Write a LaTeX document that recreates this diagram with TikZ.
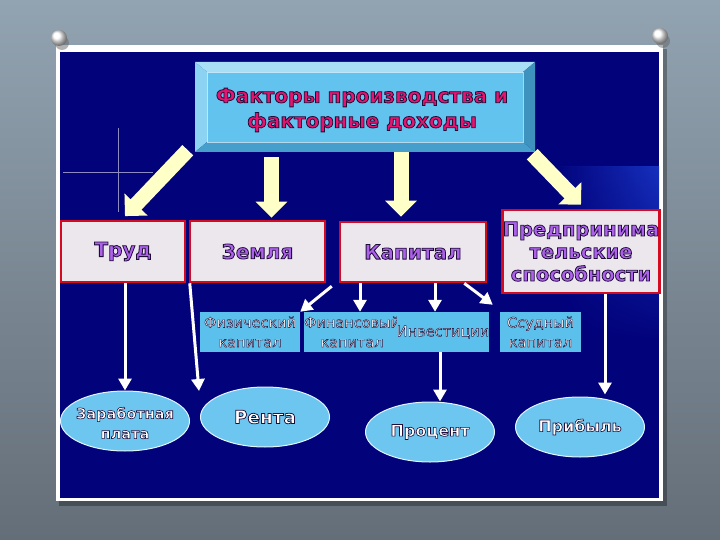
\documentclass[tikz,border=0pt]{standalone}
\usepackage{fontspec}
\setmainfont{DejaVu Sans}
\newfontfamily\dvb{DejaVu Sans Bold}[FakeBold=4]
\newfontfamily\dvr{DejaVu Sans}[FakeBold=3]
\usetikzlibrary{arrows.meta,shapes.geometric,fadings}
\definecolor{bgtop}{RGB}{146,163,177}
\definecolor{bgbot}{RGB}{100,110,120}
\definecolor{panel}{RGB}{2,2,122}
\definecolor{glow}{RGB}{22,48,190}
\definecolor{ylw}{RGB}{255,255,200}
\definecolor{boxfill}{RGB}{235,231,236}
\definecolor{boxred}{RGB}{212,10,35}
\definecolor{sky}{RGB}{92,192,236}
\definecolor{ell}{RGB}{108,198,240}
\definecolor{bevtop}{RGB}{168,222,246}
\definecolor{bevleft}{RGB}{140,210,242}
\definecolor{bevbot}{RGB}{70,158,204}
\definecolor{bevright}{RGB}{62,146,190}
\definecolor{face}{RGB}{98,196,238}
\newcommand\olt[2]{\special{pdf:bc [#1] [0.12 0.05 0.22]}#2\special{pdf:ec}}
\begin{document}
\begin{tikzpicture}[x=1pt,y=-1pt,
  rowbox/.style={rectangle,fill=boxfill,draw=boxred,line width=2.5pt,inner sep=0pt,align=center,
    font={\dvb\fontsize{20}{23}\selectfont}},
  smallbox/.style={rectangle,fill=sky,inner sep=0pt,minimum height=40pt,align=center,
    font={\dvr\fontsize{14.5}{19.5}\selectfont}},
  income/.style={ellipse,fill=ell,draw={rgb,255:red,225;green,244;blue,255},line width=1pt,inner sep=0pt,
    minimum width=129pt,minimum height=60pt},
  inctext/.style={align=center,inner sep=0pt,font={\dvb\fontsize{#1}{20}\selectfont}},
  yarrow/.style={draw=ylw,line width=15pt,-{Triangle[width=31pt,length=16pt]}},
  warrow/.style={draw=white,line width=3pt,-{Triangle[width=13pt,length=12pt]}}]
\useasboundingbox (0,0) rectangle (720,540);
% background
\shade[top color=bgtop,bottom color=bgbot] (0,0) rectangle (720,540);
\fill[black,opacity=.3] (59,49) rectangle (667,506);
\fill[white] (56,45) rectangle (663,501);
\fill[panel] (60,52) rectangle (659,498);
\shade[left color=panel,right color=glow,path fading=south] (552,167) rectangle (659,345);
% pins
\fill[black!60,opacity=.5] (62,43) circle (7);
\shade[ball color=white] (59,38) circle (8);
\fill[black!60,opacity=.5] (663,41) circle (7);
\shade[ball color=white] (660,36) circle (8);
% sparkle
\draw[white,opacity=.55,line width=.6pt] (118,128) -- (118,212) (63,172) -- (153,172);
% title bevel
\fill[bevtop] (195,62) -- (535,62) -- (523,72) -- (207,72) -- cycle;
\fill[bevleft] (195,62) -- (207,72) -- (207,142) -- (195,152) -- cycle;
\fill[bevbot] (195,152) -- (207,142) -- (523,142) -- (535,152) -- cycle;
\fill[bevright] (535,62) -- (523,72) -- (523,142) -- (535,152) -- cycle;
\fill[face] (207,72) rectangle (523,142);
\draw[white,opacity=.6,line width=.6pt] (207,72) rectangle (523,142);
\node[minimum width=340pt,minimum height=90pt,inner sep=0pt,
  label={[align=center,inner sep=0pt,yshift=-3pt,xshift=-3pt,font={\dvb\fontsize{20}{25}\selectfont}]center:{\olt{0.9 0.08 0.43}{Факторы производства и\\факторные доходы}}}]
  (title) at (365,107) {};
% second row
\node[rowbox,line width=1.8pt,minimum width=124pt,minimum height=61pt] (trud) at (123,251.5) {\olt{0.68 0.38 0.92}{Труд}};
\node[rowbox,minimum width=135pt,minimum height=61pt] (zemlya) at (257.5,251.5) {\olt{0.68 0.38 0.92}{Земля}};
\node[rowbox,minimum width=146pt,minimum height=60pt] (kapital) at (413,252) {\olt{0.68 0.38 0.92}{Капитал}};
\node[rowbox,minimum width=154pt,minimum height=83pt,font={\dvb\fontsize{19.5}{22.5}\selectfont}] (predpr) at (581,251.5)
  {\olt{0.68 0.38 0.92}{Предпринима\\тельские\\способности}};
% yellow arrows
\coordinate (zx) at ([xshift=14pt,yshift=2pt]zemlya.north);
\coordinate (kx) at ([xshift=-12pt,yshift=4pt]kapital.north);
\draw[yarrow] ([xshift=-7pt,yshift=2pt]title.south west) -- ([xshift=2pt,yshift=4pt]trud.north);
\draw[yarrow,shorten <=5pt] (title.south -| zx) -- (zx);
\draw[yarrow] (title.south -| kx) -- (kx);
\draw[yarrow] ([xshift=-3pt,yshift=-2pt]title.south east) -- ([yshift=4pt]predpr.north);
% third row
\node[smallbox,minimum width=100pt] (fiz) at (250,332) {\olt{1 1 1}{Физический\\капитал}};
\node[smallbox,minimum width=88pt] (fin) at (352,332) {\olt{1 1 1}{Финансовый\\капитал}};
\node[smallbox,minimum width=86pt] (invest) at (443,332) {\olt{1 1 1}{Инвестиции}};
\node[smallbox,minimum width=81pt] (ssud) at (540.5,332) {\olt{1 1 1}{Ссудный\\капитал}};
% incomes
\node[income,label={[inctext=14.5,yshift=-2pt]center:{\olt{1 1 1}{Заработная\\плата}}}] (zarplata) at (125,421) {};
\node[income,label={[inctext=18.5]center:{\olt{1 1 1}{Рента}}}] (renta) at (265,417) {};
\node[income,label={[inctext=16]center:{\olt{1 1 1}{Процент}}}] (procent) at (430,432) {};
\node[income,label={[inctext=16]center:{\olt{1 1 1}{Прибыль}}}] (pribyl) at (580,427) {};
% white arrows
\coordinate (rentain) at (199,391);
\draw[warrow] (trud.south -| zarplata.north) -- (zarplata.north);
\draw[warrow] ([xshift=1pt]zemlya.south west) -- (rentain);
\draw[warrow] ([xshift=-7pt,yshift=-3pt]kapital.south west) -- (fiz.north east);
\draw[warrow] ([xshift=-53pt]kapital.south) -- ([xshift=-53pt]kapital.south |- fin.north);
\draw[warrow] ([xshift=22pt]kapital.south) -- ([xshift=22pt]kapital.south |- invest.north);
\draw[warrow] ([xshift=-23pt]kapital.south east) -- ([xshift=-7pt,yshift=7pt]ssud.north west);
\draw[warrow] ([xshift=-3pt]invest.south) -- ([xshift=-3pt]invest.south |- procent.north);
\draw[warrow] ([xshift=24pt]predpr.south) -- ([xshift=24pt,yshift=2pt]predpr.south |- pribyl.north);
\end{tikzpicture}
\end{document}
